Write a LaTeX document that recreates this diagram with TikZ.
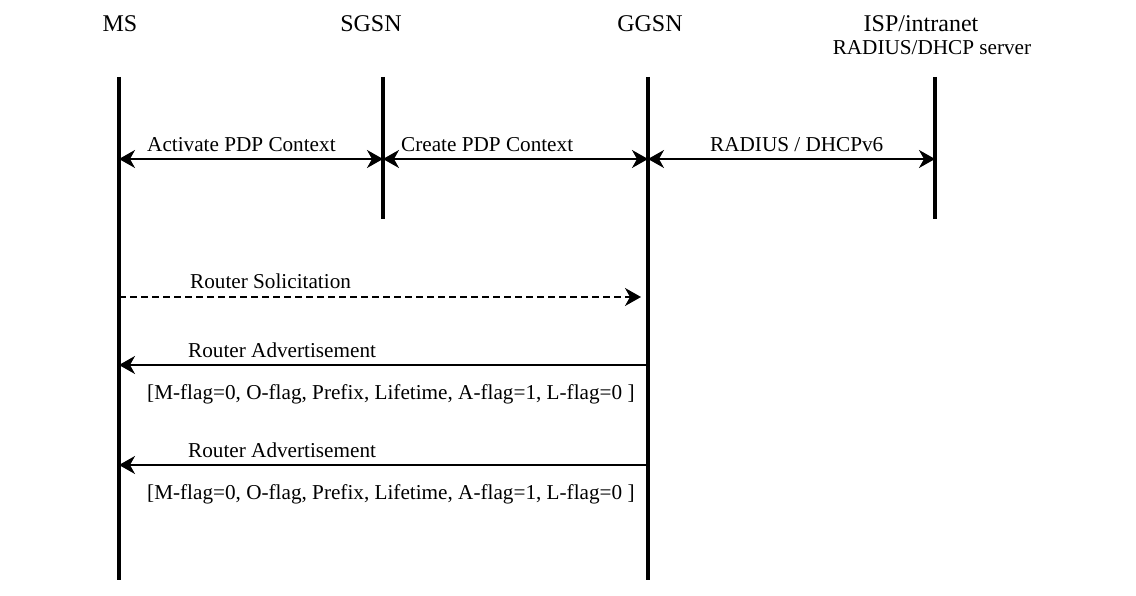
\documentclass[tikz,border=0pt]{standalone}
\usepackage{fontspec}
\setmainfont{Liberation Serif}
\usetikzlibrary{arrows.meta, positioning, calc}

\tikzset{
  life/.style={line width=4pt},
  msg/.style={line width=1.8pt, -{Stealth[length=16pt,width=18pt,inset=5pt]}},
  bimsg/.style={line width=1.8pt, {Stealth[length=16pt,width=18pt,inset=5pt]}-{Stealth[length=16pt,width=18pt,inset=5pt]}},
  head/.style={font=\fontsize{24}{28}\selectfont, inner sep=0pt},
  lbl/.style={font=\fontsize{21.2}{25}\selectfont, inner sep=0pt, anchor=base west}
}

\begin{document}
\begin{tikzpicture}[x=1pt,y=-1pt]

            % Rahmen
            \useasboundingbox (0,0) rectangle (1136,596);

            % Kopfzeilen der Instanzen
            \node[head] (msname) at (120,24) {MS};
            \node[head] (sgsnname) at (371,24) {SGSN};
            \node[head] (ggsnname) at (650,24) {GGSN};
            \node[head] (ispname) at (921,24) {ISP/intranet};
            \node[head, font=\fontsize{21.2}{25}\selectfont, below=8pt of ispname.south, xshift=11pt] (radname) {RADIUS/DHCP server};

            % Lebenslinien
            \coordinate (ms) at (119,77);     \coordinate (msend) at (119,580);
            \coordinate (sgsn) at (383,77);   \coordinate (sgsnend) at (383,219);
            \coordinate (ggsn) at (648,77);   \coordinate (ggsnend) at (648,580);
            \coordinate (isp) at (935,77);    \coordinate (ispend) at (935,219);
            \draw[life] (ms) -- (msend);
            \draw[life] (sgsn) -- (sgsnend);
            \draw[life] (ggsn) -- (ggsnend);
            \draw[life] (isp) -- (ispend);

            % Zeilen der Nachrichten
            \coordinate (pdp) at (0,159);
            \coordinate (rs) at (0,297);
            \coordinate (ra1) at (0,365);
            \coordinate (ra2) at (0,465);

            % PDP Kontext
            \draw[bimsg] (ms |- pdp) -- (sgsn |- pdp);
            \node[lbl] (actlbl) at (147,152) {Activate PDP Context};
            \draw[bimsg] (sgsn |- pdp) -- (ggsn |- pdp);
            \node[lbl] (crelbl) at (401,152) {Create PDP Context};
            \draw[bimsg] (ggsn |- pdp) -- (isp |- pdp);
            \node[lbl] (radlbl) at (710,152) {RADIUS / DHCPv6};

            % Router Solicitation
            \draw[msg, dashed, dash pattern=on 7pt off 4pt] (ms |- rs) -- ([xshift=-7pt]ggsn |- rs);
            \node[lbl] (rslbl) at (190,289) {Router Solicitation};

            % Router Advertisements
            \draw[msg] (ggsn |- ra1) -- (ms |- ra1);
            \node[lbl] (ra1lbl) at (188,357) {Router Advertisement};
            \node[lbl] (ra1par) at (147,399) {[M-flag=0, O-flag, Prefix, Lifetime, A-flag=1, L-flag=0 ]};

            \draw[msg] (ggsn |- ra2) -- (ms |- ra2);
            \node[lbl] (ra2lbl) at (188,457) {Router Advertisement};
            \node[lbl] (ra2par) at (147,499) {[M-flag=0, O-flag, Prefix, Lifetime, A-flag=1, L-flag=0 ]};

\end{tikzpicture}
\end{document}
